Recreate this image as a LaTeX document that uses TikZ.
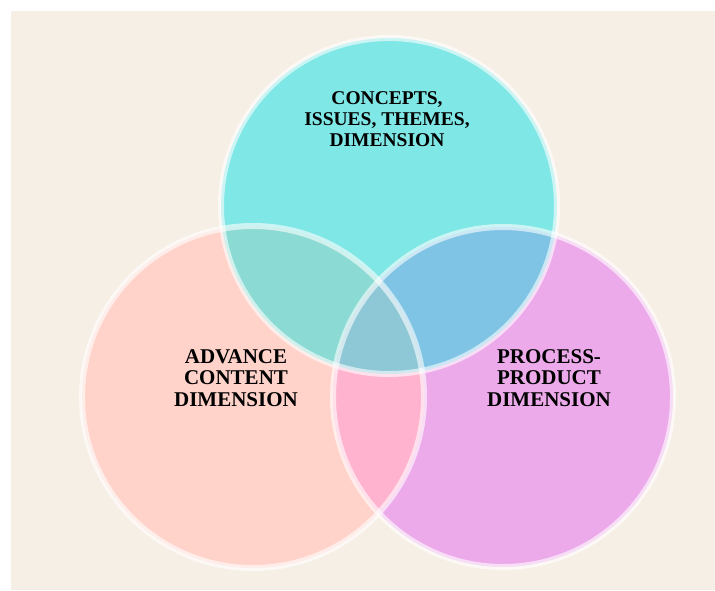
\documentclass[tikz,border=0pt]{standalone}
\usepackage{fontspec}
\setmainfont{Liberation Serif}
\begin{document}
\begin{tikzpicture}[x=1pt,y=-1pt,
  ring/.style={draw=white,draw opacity=0.6,line width=6pt},
  label/.style={anchor=north,inner sep=0pt,align=center,text=black,font=\bfseries}]
\definecolor{paper}{HTML}{F6EFE6}
\definecolor{cyanfill}{HTML}{7FE7E5}
\definecolor{pinkfill}{HTML}{FFD2CA}
\definecolor{magfill}{HTML}{ECAAEA}
\definecolor{cyanpink}{HTML}{8BDAD3}
\definecolor{cyanmag}{HTML}{7FC4E5}
\definecolor{pinkmag}{HTML}{FFB3CF}
\definecolor{allthree}{HTML}{8EC8D6}
% page and backdrop
\useasboundingbox (0,0) rectangle (715,590);
\fill[white] (0,0) rectangle (715,590);
\fill[paper] (11,11) rectangle (715,590);
% circle centres
\coordinate (ct) at (389,206);
\coordinate (cl) at (253,397);
\coordinate (cr) at (503,397);
\def\rt{168}\def\rl{171}\def\rr{170}
% base fills
\fill[pinkfill] (cl) circle (\rl);
\fill[magfill] (cr) circle (\rr);
\fill[cyanfill] (ct) circle (\rt);
% pairwise overlaps
\begin{scope}
  \clip (ct) circle (\rt);
  \fill[cyanpink] (cl) circle (\rl);
\end{scope}
\begin{scope}
  \clip (ct) circle (\rt);
  \fill[cyanmag] (cr) circle (\rr);
\end{scope}
\begin{scope}
  \clip (cl) circle (\rl);
  \fill[pinkmag] (cr) circle (\rr);
\end{scope}
\begin{scope}
  \clip (ct) circle (\rt);
  \clip (cl) circle (\rl);
  \fill[allthree] (cr) circle (\rr);
\end{scope}
% light rings
\draw[ring] (cl) circle (\rl);
\draw[ring] (cr) circle (\rr);
\draw[ring] (ct) circle (\rt);
% labels
\node[label,font=\bfseries\fontsize{19.5}{21}\selectfont] (tconcepts) at (387,91)
  {CONCEPTS,\\ISSUES, THEMES,\\DIMENSION};
\node[label,font=\bfseries\fontsize{21}{21.5}\selectfont] (tadvance) at (236,349)
  {ADVANCE\\CONTENT\\DIMENSION};
\node[label,font=\bfseries\fontsize{21}{21.5}\selectfont] (tprocess) at (549,349)
  {PROCESS-\\PRODUCT\\DIMENSION};
\end{tikzpicture}
\end{document}
